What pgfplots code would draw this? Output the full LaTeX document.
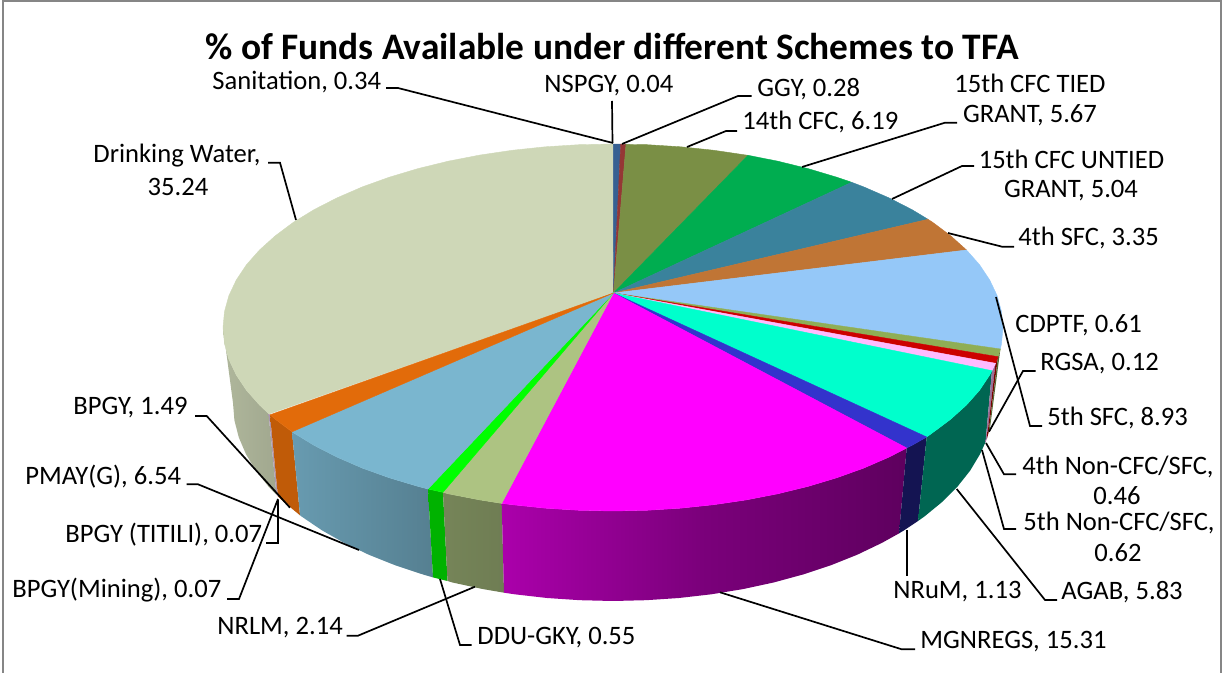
\documentclass[border=0pt]{standalone}
\usepackage{pgfplots}
\pgfplotsset{compat=1.18}
\usepackage{fontspec}
\setmainfont{Carlito}
\definecolor{cDW}{HTML}{CED7B7}
\definecolor{cSan}{HTML}{376092}
\definecolor{cGGY}{HTML}{953735}
\definecolor{cXIV}{HTML}{7A8F45}
\definecolor{cTied}{HTML}{00AD50}
\definecolor{cUnt}{HTML}{3A829C}
\definecolor{cIVS}{HTML}{C07535}
\definecolor{cVS}{HTML}{95C8F8}
\definecolor{cCD}{HTML}{8FAE55}
\definecolor{cRG}{HTML}{CC0000}
\definecolor{cPk}{HTML}{FFBBFF}
\definecolor{cAG}{HTML}{00FFCC}
\definecolor{cNR}{HTML}{3333CC}
\definecolor{cMG}{HTML}{FF00FF}
\definecolor{cNL}{HTML}{ADC382}
\definecolor{cDD}{HTML}{00FF00}
\definecolor{cPM}{HTML}{7AB6CF}
\definecolor{cBP}{HTML}{E26B0A}
\definecolor{cLi}{HTML}{C8B0D0}
\definecolor{fr}{HTML}{868686}
\pgfplotsset{
  slice/.style={fill=#1,draw=#1,line width=0.2pt,mark=none,forget plot},
  rim/.style n args={2}{left color=#1,right color=#2,draw=none,mark=none,forget plot},
  lead/.style={black,line width=0.85pt,mark=none,forget plot},
}
\tikzset{lab/.style={font=\fontsize{13.3}{16}\selectfont,inner sep=0pt,text=black}}
\begin{document}
\begin{tikzpicture}
\useasboundingbox (0,0) rectangle (611pt,336.5pt);
\begin{axis}[at={(0,0)},anchor=south west,scale only axis,width=611pt,height=336.5pt,
  xmin=0,xmax=1222,ymin=0,ymax=673,y dir=reverse,axis lines=none,clip=false,ticks=none]
% frame
\addplot[fr,line width=1pt,mark=none,forget plot] coordinates {(2.5,673)(2.5,1.5)(1221,1.5)(1221,673)};
% rims
\addplot[rim={cDW!85!black}{cDW!78!black}] coordinates {(223,327.5)(224.5,343.5)(228.9,359.4)(236.3,375)(246.5,390.3)(259.5,405)(268.5,413.5)(276.5,495)(268.6,486.7)(255.9,470.7)(246,454.2)(238.8,437.4)(234.4,420.3)(233,403)} --cycle;
\addplot[rim={cLi!85!black}{cLi!85!black}] coordinates {(268.5,413.5)(270,414.8)(278,496.5)(276.5,495)} --cycle;
\addplot[rim={cBP!85!black}{cBP!85!black}] coordinates {(270,414.8)(275.3,419.2)(292,431.8)(300,515.3)(283.9,502)(278,496.5)} --cycle;
\addplot[rim={cPM!85!black}{cPM!70!black}] coordinates {(292,431.8)(293.5,432.8)(314.3,445.5)(337.2,457.2)(362.3,468.1)(389.3,477.8)(418,486.4)(428,489)(433,577.4)(423,574.5)(395,565.2)(368.7,554.7)(344.3,543)(321.9,530.3)(301.7,516.6)(300,515.3)} --cycle;
\addplot[rim={cDD!70!black}{cDD!70!black}] coordinates {(428,489)(443,492.3)(447.5,581)(433,577.4)} --cycle;
\addplot[rim={cNL!68!black}{cNL!64!black}] coordinates {(443,492.3)(448.2,493.8)(479.6,499.9)(501.7,503.4)(504,592.7)(483,589.1)(452.4,582.5)(447.5,581)} --cycle;
\addplot[left color=cMG!67!black,right color=cMG!37!black,middle color=cMG!48!black,draw=none,mark=none,forget plot] coordinates {(501.7,503.4)(512.1,504.7)(545.3,508.2)(579,510.3)(613,511)(647,510.3)(680.7,508.2)(713.9,504.7)(746.4,499.9)(777.8,493.8)(808,486.4)(836.7,477.8)(863.7,468.1)(888.8,457.2)(906.7,448)(899,533.4)(881.7,543)(857.3,554.7)(831,565.2)(803,574.5)(773.6,582.5)(743,589.1)(711.4,594.3)(679,598)(646.1,600.2)(613,601)(579.9,600.2)(547,598)(514.6,594.3)(504,592.7)} --cycle;
\addplot[rim={cNR!40!black}{cNR!40!black}] coordinates {(906.7,448)(911.7,445.5)(926.7,437)(918,521)(904.1,530.3)(899,533.4)} --cycle;
\addplot[rim={cAG!40!black}{cAG!40!black}] coordinates {(926.7,437)(932.5,432.8)(950.7,419.2)(966.5,405)(979.5,390.3)(989.7,375)(992,370.7)(985.5,442.2)(980,454.2)(970.1,470.7)(957.4,486.7)(942.1,502)(924.3,516.6)(918,521)} --cycle;
\addplot[rim={cPk!60!black}{cPk!60!black}] coordinates {(992,370.7)(995.5,363.3)(987,438.4)(985.5,442.2)} --cycle;
\addplot[rim={cRG!60!black}{cRG!60!black}] coordinates {(995.5,363.3)(998,356.7)(988.5,433)(987,438.4)} --cycle;
\addplot[rim={cCD!60!black}{cCD!60!black}] coordinates {(998,356.7)(1000.4,349)(990,428)(988.5,433)} --cycle;
% top faces
\addplot[slice=cDW] coordinates {(613.5,293)(269,414)(259.5,405)(246.5,390.3)(236.3,375)(228.9,359.4)(224.5,343.5)(223,327.5)(224.5,311.5)(228.9,295.6)(236.3,280)(246.5,264.7)(259.5,250)(275.3,235.8)(293.5,222.2)(314.3,209.5)(337.2,197.8)(362.3,186.9)(389.3,177.2)(418,168.6)(448.2,161.2)(479.6,155.1)(512.1,150.3)(545.3,146.8)(579,144.7)(613.3,144)} --cycle;
\addplot[slice=cSan] coordinates {(613.5,293)(613.3,144)(620.7,144.2)} --cycle;
\addplot[slice=cGGY] coordinates {(613.5,293)(620.7,144.2)(626,144.4)} --cycle;
\addplot[slice=cXIV] coordinates {(613.5,293)(626,144.4)(647,144.7)(680.7,146.8)(713.9,150.3)(746.4,155.1)(748,155.3)} --cycle;
\addplot[slice=cTied] coordinates {(613.5,293)(748,155.3)(777.8,161.2)(808,168.6)(836.7,177.2)(851.7,182.3)} --cycle;
\addplot[slice=cUnt] coordinates {(613.5,293)(851.7,182.3)(863.7,186.9)(888.8,197.8)(911.7,209.5)(928,219.3)} --cycle;
\addplot[slice=cIVS] coordinates {(613.5,293)(928,219.3)(932.5,222.2)(950.7,235.8)(966.5,250)} --cycle;
\addplot[slice=cVS] coordinates {(613.5,293)(966.5,250)(979.5,264.7)(989.7,280)(997.1,295.6)(1001.5,311.5)(1003,327.5)(1001.5,343.5)(1000.4,349)} --cycle;
\addplot[slice=cCD] coordinates {(613.5,293)(1000.4,349)(998,356.7)} --cycle;
\addplot[slice=cRG] coordinates {(613.5,293)(998,356.7)(995.5,363.3)} --cycle;
\addplot[slice=cPk] coordinates {(613.5,293)(995.5,363.3)(992,370.7)} --cycle;
\addplot[slice=cAG] coordinates {(613.5,293)(992,370.7)(989.7,375)(979.5,390.3)(966.5,405)(950.7,419.2)(932.5,432.8)(926.7,437)} --cycle;
\addplot[slice=cNR] coordinates {(613.5,293)(926.7,437)(911.7,445.5)(906.7,448)} --cycle;
\addplot[slice=cMG] coordinates {(613.5,293)(906.7,448)(888.8,457.2)(863.7,468.1)(836.7,477.8)(808,486.4)(777.8,493.8)(746.4,499.9)(713.9,504.7)(680.7,508.2)(647,510.3)(613,511)(579,510.3)(545.3,508.2)(512.1,504.7)(501.7,503.4)} --cycle;
\addplot[slice=cNL] coordinates {(613.5,293)(501.7,503.4)(479.6,499.9)(448.2,493.8)(443,492.3)} --cycle;
\addplot[slice=cDD] coordinates {(613.5,293)(443,492.3)(428,489)} --cycle;
\addplot[slice=cPM] coordinates {(613.5,293)(428,489)(418,486.4)(389.3,477.8)(362.3,468.1)(337.2,457.2)(314.3,445.5)(293.5,432.8)(292,431.8)} --cycle;
\addplot[slice=cBP] coordinates {(613.5,293)(292,431.8)(275.3,419.2)(270,414.8)} --cycle;
% leaders
\addplot[lead] coordinates {(386,88)(398,88)(613,143)};
\addplot[lead] coordinates {(612,101)(612.5,143)};
\addplot[lead] coordinates {(751.7,96)(738,96)(622,144)};
\addplot[lead] coordinates {(737,131)(726,131)(687,147)};
\addplot[lead] coordinates {(957,122.7)(945,122.7)(802,167)};
\addplot[lead] coordinates {(974,166)(962,166)(892,199)};
\addplot[lead] coordinates {(948,233)(1002,246.7)(1014,246.7)};
\addplot[lead] coordinates {(996,297)(1030,426)(1042,426)};
\addplot[lead] coordinates {(1035.7,371)(1023,371)(989,431.7)};
\addplot[lead] coordinates {(986,443)(1004,474.3)(1016,474.3)};
\addplot[lead] coordinates {(982,450)(1004,529)(1016,529)};
\addplot[lead] coordinates {(956.7,489)(1045,600)(1057,600)};
\addplot[lead] coordinates {(906.7,530)(906.7,575.7)};
\addplot[lead] coordinates {(720,592.3)(901.7,649.3)(915,649.3)};
\addplot[lead] coordinates {(440,579)(460,645)(471.7,645)};
\addplot[lead] coordinates {(346.7,635.7)(358,635.7)(475,586.7)};
\addplot[lead] coordinates {(227,599)(239,599)(278,499)};
\addplot[lead] coordinates {(266,543)(277.7,543)(277.7,500)};
\addplot[lead] coordinates {(186.7,484.3)(198,484.3)(359,550)};
\addplot[lead] coordinates {(195,416)(206.7,416)(290,507.7)};
\addplot[lead] coordinates {(268,162.7)(280,162.7)(296,220)};
% title and labels
\node[font=\fontsize{18.7}{22}\selectfont\bfseries,inner sep=0pt] at (axis cs:612,47) {\% of Funds Available under different Schemes to TFA};
\node[lab,anchor=west] at (axis cs:212,82) {Sanitation, 0.34};
\node[lab,anchor=west] at (axis cs:544,86) {NSPGY, 0.04};
\node[lab,anchor=west] at (axis cs:757,89) {GGY, 0.28};
\node[lab,anchor=west] at (axis cs:742,122) {14th CFC, 6.19};
\node[lab] at (axis cs:1030,83) {15th CFC TIED};
\node[lab] at (axis cs:1030,115) {GRANT, 5.67};
\node[lab] at (axis cs:1071.5,159) {15th CFC UNTIED};
\node[lab] at (axis cs:1071,191) {GRANT, 5.04};
\node[lab,anchor=west] at (axis cs:1018,238) {4th SFC, 3.35};
\node[lab,anchor=west] at (axis cs:1015,325) {CDPTF, 0.61};
\node[lab,anchor=west] at (axis cs:1040,364) {RGSA, 0.12};
\node[lab,anchor=west] at (axis cs:1047,418) {5th SFC, 8.93};
\node[lab,anchor=west] at (axis cs:1022,467) {4th Non-CFC/SFC,};
\node[lab] at (axis cs:1117,496) {0.46};
\node[lab,anchor=west] at (axis cs:1023,523) {5th Non-CFC/SFC,};
\node[lab] at (axis cs:1118,553) {0.62};
\node[lab,anchor=west] at (axis cs:1061,592) {AGAB, 5.83};
\node[lab,anchor=west] at (axis cs:893,592) {NRuM, 1.13};
\node[lab,anchor=west] at (axis cs:920,642) {MGNREGS, 15.31};
\node[lab,anchor=west] at (axis cs:477,638) {DDU-GKY, 0.55};
\node[lab,anchor=west] at (axis cs:217,628) {NRLM, 2.14};
\node[lab,anchor=west] at (axis cs:12,590) {BPGY(Mining), 0.07};
\node[lab,anchor=west] at (axis cs:65,535) {BPGY (TITILI), 0.07};
\node[lab,anchor=west] at (axis cs:25,477) {PMAY(G), 6.54};
\node[lab,anchor=west] at (axis cs:73,408) {BPGY, 1.49};
\node[lab,anchor=west] at (axis cs:93,156) {Drinking Water,};
\node[lab] at (axis cs:178,187) {35.24};
\end{axis}
\end{tikzpicture}
\end{document}
